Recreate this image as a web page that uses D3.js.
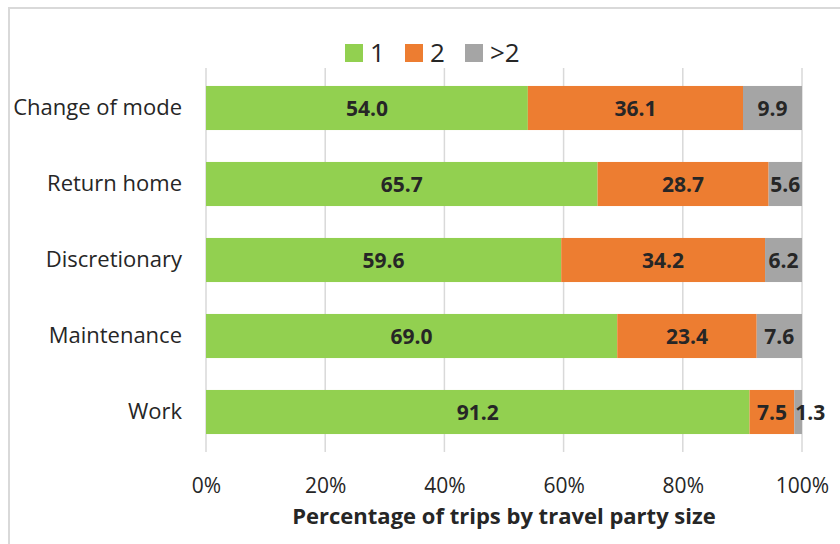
<!DOCTYPE html>
<html>
<head>
<meta charset="utf-8">
<script src="https://cdn.jsdelivr.net/npm/d3@7"></script>
<style>
  html, body { margin: 0; padding: 0; background: #fff; }
  svg { display: block; font-family: "Open Sans", "Noto Sans", sans-serif; }
</style>
</head>
<body>
<svg id="chart" width="840" height="544"></svg>
<script>
// Trip purposes, top to bottom
const categories = ["Change of mode", "Return home", "Discretionary", "Maintenance", "Work"];
// Party-size series (percent of trips)
const seriesNames = ["1", "2", ">2"];
const onePerson   = [54.0, 65.7, 59.6, 69.0, 91.2];
const twoPersons  = [36.1, 28.7, 34.2, 23.4, 7.5];
const morePersons = [9.9, 5.6, 6.2, 7.6, 1.3];
const seriesColors = ["#92D050", "#ED7D31", "#A5A5A5"];
const tickValues = [0, 0.2, 0.4, 0.6, 0.8, 1.0];
const axisTitle = "Percentage of trips by travel party size";

const FONT = "'Open Sans', 'Noto Sans', sans-serif";
const TEXT = "#262626";

const rows = categories.map((c, i) => ({
  category: c,
  "1": onePerson[i],
  "2": twoPersons[i],
  ">2": morePersons[i]
}));

const svg = d3.select("#chart");

// outer chart frame
svg.append("rect")
  .attr("x", 9).attr("y", 8)
  .attr("width", 900).attr("height", 700)
  .attr("fill", "none")
  .attr("stroke", "#d9d9d9")
  .attr("stroke-width", 2);

const plot = { left: 206, right: 802, top: 70, bottom: 450 };

const x = d3.scaleLinear().domain([0, 1]).range([plot.left, plot.right]);
const y = d3.scaleBand().domain(categories)
  .range([plot.top, plot.bottom])
  .paddingInner(0.42).paddingOuter(0.21);

// vertical gridlines
svg.append("g")
  .selectAll("line")
  .data(tickValues)
  .join("line")
  .attr("x1", d => x(d)).attr("x2", d => x(d))
  .attr("y1", 68).attr("y2", 452)
  .attr("stroke", "#d9d9d9")
  .attr("stroke-width", 1.5);

// x axis tick labels
const xAxis = d3.axisBottom(x)
  .tickValues(tickValues)
  .tickFormat(d3.format(".0%"))
  .tickSize(0)
  .tickPadding(0);
const xg = svg.append("g")
  .attr("transform", `translate(0, 478)`)
  .call(xAxis);
xg.select(".domain").remove();
xg.selectAll("text")
  .attr("font-family", FONT)
  .attr("font-size", 21)
  .attr("fill", TEXT);

// y axis category labels
const yAxis = d3.axisLeft(y).tickSize(0).tickPadding(24);
const yg = svg.append("g")
  .attr("transform", `translate(${plot.left}, 0)`)
  .call(yAxis);
yg.select(".domain").remove();
yg.selectAll("text")
  .attr("font-family", FONT)
  .attr("font-size", 22)
  .attr("fill", TEXT);

// stacked segments
const stack = d3.stack().keys(seriesNames).value((d, k) => d[k] / 100);
const layers = stack(rows);

const layerG = svg.append("g")
  .selectAll("g")
  .data(layers)
  .join("g")
  .attr("fill", (d, i) => seriesColors[i]);

layerG.selectAll("rect")
  .data(d => d)
  .join("rect")
  .attr("x", d => x(d[0]))
  .attr("y", d => y(d.data.category))
  .attr("width", d => x(d[1]) - x(d[0]))
  .attr("height", y.bandwidth());

// value labels; a sliver too thin for its label gets it placed from its left edge
layerG.selectAll("text")
  .data((d) => d.map(s => ({ s, key: d.key })))
  .join("text")
  .attr("x", ({ s }) => {
    const w = x(s[1]) - x(s[0]);
    return w < 20 ? x(s[0]) + 1 : (x(s[0]) + x(s[1])) / 2;
  })
  .attr("text-anchor", ({ s }) => (x(s[1]) - x(s[0]) < 20 ? "start" : "middle"))
  .attr("y", ({ s }) => y(s.data.category) + y.bandwidth() / 2)
  .attr("dy", "0.36em")
  .attr("font-family", FONT)
  .attr("font-weight", "bold")
  .attr("font-size", 21)
  .attr("fill", TEXT)
  .text(({ s, key }) => d3.format(".1f")(s.data[key]));

// axis title
svg.append("text")
  .attr("x", (plot.left + plot.right) / 2)
  .attr("y", 524)
  .attr("text-anchor", "middle")
  .attr("font-family", FONT)
  .attr("font-weight", "bold")
  .attr("font-size", 22)
  .attr("fill", TEXT)
  .text(axisTitle);

// legend
const legendX = [345, 405, 465];
const legend = svg.append("g")
  .selectAll("g")
  .data(seriesNames)
  .join("g")
  .attr("transform", (d, i) => `translate(${legendX[i]}, 44)`);
legend.append("rect")
  .attr("width", 18).attr("height", 18)
  .attr("fill", (d, i) => seriesColors[i]);
legend.append("text")
  .attr("x", 25).attr("y", 9)
  .attr("dy", "0.36em")
  .attr("font-family", FONT)
  .attr("font-size", 26)
  .attr("fill", TEXT)
  .text(d => d);
</script>
</body>
</html>
